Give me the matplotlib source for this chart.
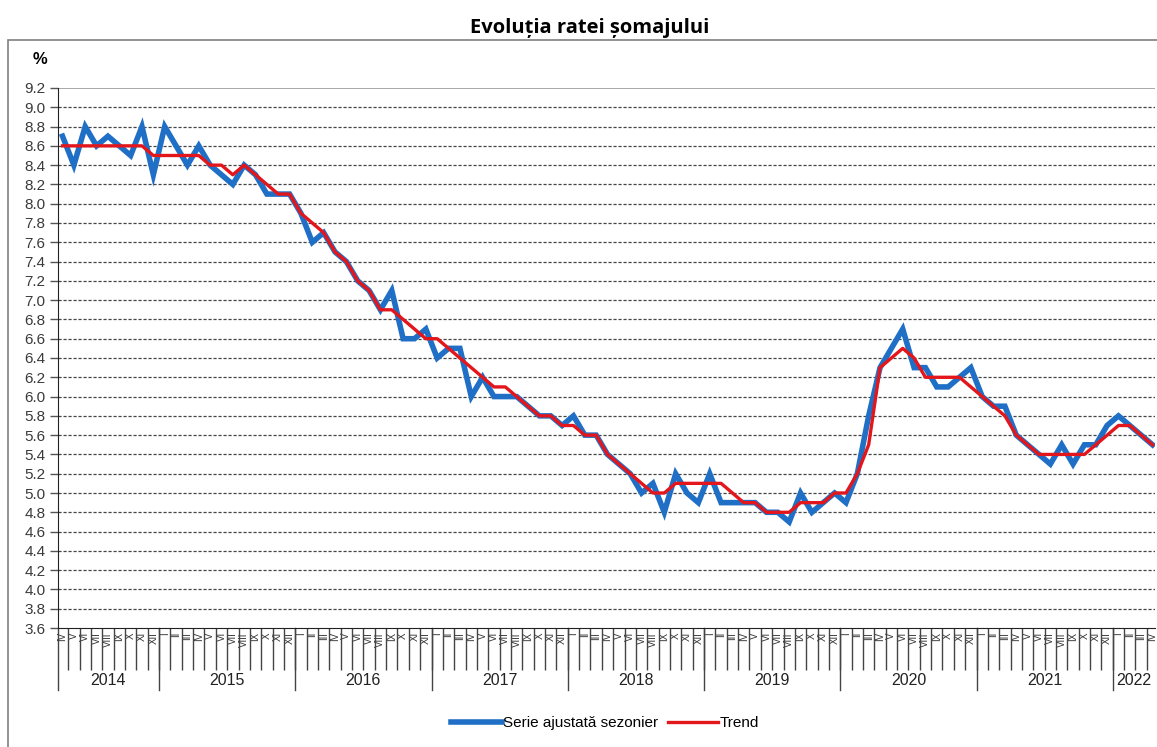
import matplotlib.pyplot as plt
import matplotlib.transforms as mtransforms
from matplotlib.patches import Rectangle

plt.rcParams['font.family'] = ['Liberation Sans', 'DejaVu Sans']

# aprilie 2014 - aprilie 2022, lunar
years = ['2014', '2015', '2016', '2017', '2018', '2019', '2020', '2021', '2022']
months_per_year = [9, 12, 12, 12, 12, 12, 12, 12, 4]
roman = ['I', 'II', 'III', 'IV', 'V', 'VI', 'VII', 'VIII', 'IX', 'X', 'XI', 'XII']
first_month = 3  # aprilie

serie_ajustata = [
    8.7, 8.4, 8.8, 8.6, 8.7, 8.6, 8.5, 8.8, 8.3,
    8.8, 8.6, 8.4, 8.6, 8.4, 8.3, 8.2, 8.4, 8.3, 8.1, 8.1, 8.1,
    7.9, 7.6, 7.7, 7.5, 7.4, 7.2, 7.1, 6.9, 7.1, 6.6, 6.6, 6.7,
    6.4, 6.5, 6.5, 6.0, 6.2, 6.0, 6.0, 6.0, 5.9, 5.8, 5.8, 5.7,
    5.8, 5.6, 5.6, 5.4, 5.3, 5.2, 5.0, 5.1, 4.8, 5.2, 5.0, 4.9,
    5.2, 4.9, 4.9, 4.9, 4.9, 4.8, 4.8, 4.7, 5.0, 4.8, 4.9, 5.0,
    4.9, 5.2, 5.8, 6.3, 6.5, 6.7, 6.3, 6.3, 6.1, 6.1, 6.2, 6.3,
    6.0, 5.9, 5.9, 5.6, 5.5, 5.4, 5.3, 5.5, 5.3, 5.5, 5.5, 5.7,
    5.8, 5.7, 5.6, 5.5,
]
trend = [
    8.6, 8.6, 8.6, 8.6, 8.6, 8.6, 8.6, 8.6, 8.5,
    8.5, 8.5, 8.5, 8.5, 8.4, 8.4, 8.3, 8.4, 8.3, 8.2, 8.1, 8.1,
    7.9, 7.8, 7.7, 7.5, 7.4, 7.2, 7.1, 6.9, 6.9, 6.8, 6.7, 6.6,
    6.6, 6.5, 6.4, 6.3, 6.2, 6.1, 6.1, 6.0, 5.9, 5.8, 5.8, 5.7,
    5.7, 5.6, 5.6, 5.4, 5.3, 5.2, 5.1, 5.0, 5.0, 5.1, 5.1, 5.1,
    5.1, 5.1, 5.0, 4.9, 4.9, 4.8, 4.8, 4.8, 4.9, 4.9, 4.9, 5.0,
    5.0, 5.2, 5.5, 6.3, 6.4, 6.5, 6.4, 6.2, 6.2, 6.2, 6.2, 6.1,
    6.0, 5.9, 5.8, 5.6, 5.5, 5.4, 5.4, 5.4, 5.4, 5.4, 5.5, 5.6,
    5.7, 5.7, 5.6, 5.5,
]

n = len(serie_ajustata)
x = list(range(n))
month_labels = [roman[(first_month + i) % 12] for i in range(n)]

fig = plt.figure(figsize=(11.57, 7.47), dpi=100)
ax = fig.add_axes([0.0501, 0.1593, 0.948, 0.7229])

# chenar exterior
fig.patches.append(Rectangle((0.007, -0.01), 1.0, 0.9465 + 0.01, transform=fig.transFigure,
                             fill=False, edgecolor='#7f7f7f', linewidth=1.2))

fig.text(0.51, 0.962, 'Evoluția ratei șomajului', ha='center', va='center',
         fontsize=14.5, fontweight='bold', family=['Open Sans', 'DejaVu Sans'])
fig.text(0.035, 0.92, '%', ha='center', va='center', fontsize=12, fontweight='bold')

ax.plot(x, serie_ajustata, color='#1f6fc6', linewidth=4.0, solid_joinstyle='miter',
        label='Serie ajustată sezonier', zorder=3)
ax.plot(x, trend, color='#e3161c', linewidth=2.4, label='Trend', zorder=4)

ax.set_xlim(-0.4, n - 0.8)
ax.set_ylim(3.6, 9.2)

yt = [round(3.6 + 0.2 * k, 1) for k in range(29)]
ax.set_yticks(yt)
ax.set_yticklabels([f'{v:.1f}' for v in yt], fontsize=11, color='#3a3a3a')
ax.tick_params(axis='y', length=6, width=1, color='#555555', pad=3)
for v in yt[1:-1]:
    ax.axhline(v, color='#444444', linewidth=0.9, linestyle=(0, (2.5, 1.5)), zorder=1)

for s in ['top', 'right']:
    ax.spines[s].set_visible(False)
ax.axhline(9.2, color='#999999', linewidth=1.2, zorder=1)
ax.spines['left'].set_color('#222222')
ax.spines['bottom'].set_color('#222222')

# axa x: luni
ax.set_xticks(x)
ax.set_xticklabels(month_labels, rotation=90, fontsize=7, color='#333333')
ax.tick_params(axis='x', which='major', length=0, pad=3)
ax.set_xticks([i + 0.5 for i in range(n - 1)], minor=True)
ax.tick_params(axis='x', which='minor', length=30, width=1, color='#444444')

# separatori de ani si etichete
trans = mtransforms.blended_transform_factory(ax.transData, ax.transAxes)
start = 0
bounds = [-0.4]
for yr, cnt in zip(years, months_per_year):
    end = start + cnt
    mid = (max(start - 0.5, -0.4) + min(end - 0.5, n - 0.8)) / 2
    ax.text(mid, -0.097, yr, transform=trans, ha='center', va='center',
            fontsize=11.5, color='#222222')
    if end < n:
        bounds.append(end - 0.5)
    start = end
for b in bounds:
    ax.plot([b, b], [0, -0.115], transform=trans, color='#444444',
            linewidth=1, clip_on=False)

fig.legend(loc='center', bbox_to_anchor=(0.523, 0.032), ncol=2, frameon=False,
           fontsize=11, handlelength=3.3, handletextpad=0.1, columnspacing=0.6)

fig.savefig('out.png', dpi=100)
